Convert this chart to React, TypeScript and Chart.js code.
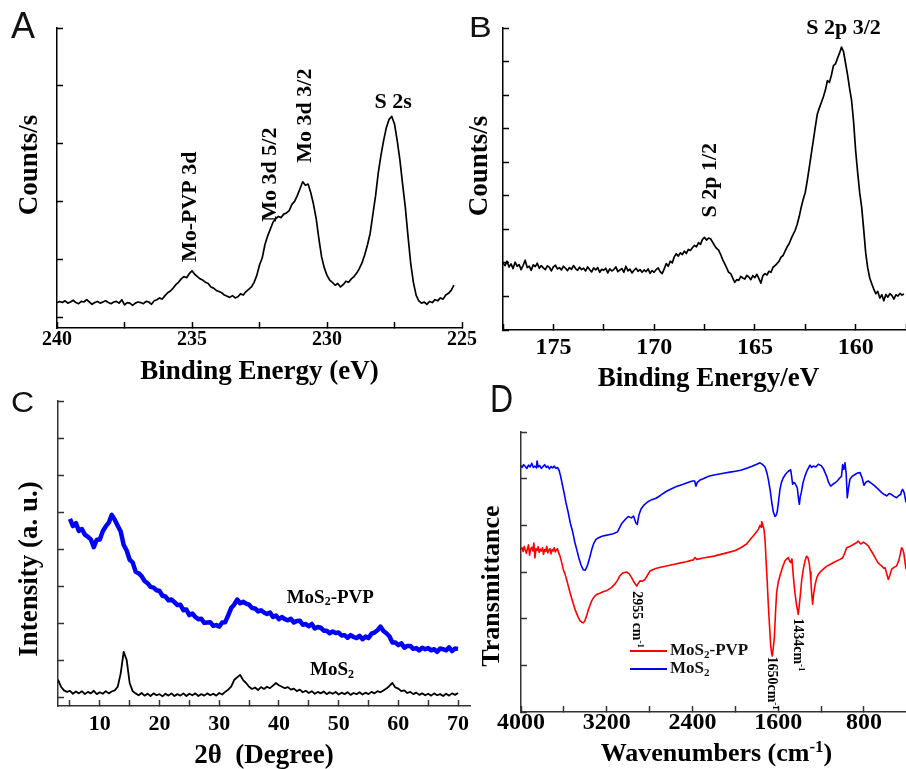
import { useEffect, useRef } from "react";
import { Chart, registerables } from "chart.js";

Chart.register(...registerables);

const W = 906;
const H = 769;
const SERIF = "'Liberation Serif', 'Times New Roman', Times, serif";
const SANS = "'Liberation Sans', Arial, Helvetica, sans-serif";

// ---------------- Panel A: XPS Mo 3d / S 2s region ----------------
const xpsMoStartEV = 240.0;
const xpsMoStepEV = -0.1;
const xpsMoCounts = [
  0.25,
  0.27, 0.25, 0.28, 0.24, 0.26, 0.29, 0.25, 0.23, 0.27, 0.26,
  0.30, 0.26, 0.22, 0.25, 0.27, 0.24, 0.26, 0.28, 0.25, 0.23,
  0.26, 0.27, 0.24, 0.30, 0.21, 0.25, 0.24, 0.20, 0.24, 0.26,
  0.25, 0.23, 0.27, 0.26, 0.22, 0.28, 0.30, 0.33, 0.31, 0.37,
  0.42, 0.45, 0.50, 0.56, 0.60, 0.66, 0.70, 0.68, 0.75, 0.80,
  0.74, 0.70, 0.66, 0.64, 0.60, 0.58, 0.52, 0.50, 0.46, 0.44,
  0.42, 0.38, 0.36, 0.34, 0.37, 0.33, 0.35, 0.40, 0.38, 0.44,
  0.48, 0.52, 0.60, 0.72, 0.90, 1.02, 1.25, 1.40, 1.52, 1.64,
  1.70, 1.74, 1.72, 1.78, 1.80, 1.84, 1.95, 2.00, 2.10, 2.22,
  2.34, 2.28, 2.30, 2.15, 1.95, 1.70, 1.35, 1.04, 0.85, 0.72,
  0.64, 0.60, 0.55, 0.58, 0.52, 0.56, 0.62, 0.60, 0.66, 0.70,
  0.76, 0.84, 0.94, 1.08, 1.25, 1.45, 1.78, 2.10, 2.50, 2.80,
  3.06, 3.28, 3.42, 3.47, 3.34, 3.05, 2.72, 2.30, 1.90, 1.40,
  0.93, 0.60, 0.38, 0.28, 0.24, 0.26, 0.22, 0.27, 0.25, 0.30,
  0.28, 0.33, 0.31, 0.38, 0.41, 0.46, 0.55,
];
const xpsMoTickLabels = [240, 235, 230, 225];
const xpsMoPeakNames = ["Mo-PVP 3d", "Mo 3d 5/2", "Mo 3d 3/2", "S 2s"];

// ---------------- Panel B: XPS S 2p region ----------------
const xpsSStartEV = 177.5;
const xpsSStepEV = -0.1;
const xpsSCounts = [
  1.00, 0.92, 1.05, 0.88, 0.97, 0.83, 1.02, 0.90, 0.95, 0.80,
  0.93, 1.08, 0.86, 0.90, 0.78, 0.94, 0.89, 0.99, 0.84, 0.92,
  0.85, 0.80, 0.91, 0.87, 0.76, 0.88, 0.93, 0.82, 0.86, 0.79,
  0.90, 0.84, 0.77, 0.86, 0.81, 0.92, 0.83, 0.78, 0.87, 0.80,
  0.84, 0.76, 0.88, 0.80, 0.73, 0.85, 0.79, 0.86, 0.72, 0.81,
  0.78, 0.84, 0.70, 0.82, 0.76, 0.80, 0.88, 0.74, 0.79, 0.83,
  0.72, 0.90, 0.76, 0.81, 0.70, 0.78, 0.84, 0.75, 0.80, 0.72,
  0.79, 0.74, 0.82, 0.69, 0.77, 0.72, 0.80, 0.85, 0.74, 0.68,
  0.82, 0.98, 0.90, 1.05, 1.00, 1.18, 1.27, 1.20, 1.30, 1.25,
  1.35, 1.28, 1.40, 1.37, 1.45, 1.52, 1.48, 1.60, 1.55, 1.70,
  1.76, 1.68, 1.74, 1.72, 1.62, 1.52, 1.43, 1.38, 1.25, 1.10,
  0.98, 0.85, 0.72, 0.68, 0.55, 0.42, 0.50, 0.48, 0.60, 0.55,
  0.52, 0.63, 0.58, 0.50, 0.62, 0.56, 0.66, 0.53, 0.40, 0.62,
  0.68, 0.64, 0.75, 0.72, 0.87, 0.92, 0.98, 1.05, 1.17, 1.22,
  1.35, 1.48, 1.57, 1.72, 1.85, 1.97, 2.15, 2.38, 2.66, 2.90,
  3.10, 3.45, 3.85, 4.25, 4.65, 5.05, 5.44, 5.62, 5.78, 5.95,
  6.15, 6.43, 6.38, 6.60, 6.88, 6.93, 7.10, 7.25, 7.43, 7.30,
  6.95, 6.60, 6.20, 5.84, 5.20, 4.35, 3.70, 3.10, 2.66, 2.00,
  1.30, 0.85, 0.55, 0.38, 0.22, 0.08, 0.15, -0.05, 0.05, -0.13,
  0.06, -0.02, 0.08, 0.03, -0.08, 0.05, 0.01, 0.09, 0.04, 0.07,
];
const xpsSTickLabels = [175, 170, 165, 160];
const xpsSPeakNames = ["S 2p 3/2", "S 2p 1/2"];

// ---------------- Panel C: XRD ----------------
const seriesNames = ["MoS_{2}-PVP", "MoS_{2}"];
const xrdStepDeg = 0.5;
const xrdMoS2StartDeg = 3;
const xrdMoS2 = [
  0.49, 0.30, 0.20, 0.16, 0.19, 0.11, 0.17, 0.12, 0.18, 0.10,
  0.16, 0.12, 0.19, 0.10, 0.15, 0.11, 0.18, 0.12, 0.17, 0.20,
  0.30, 0.66, 1.24, 1.02, 0.40, 0.18, 0.12, 0.07, 0.13, 0.06,
  0.11, 0.05, 0.12, 0.07, 0.10, 0.04, 0.11, 0.06, 0.12, 0.05,
  0.10, 0.06, 0.12, 0.05, 0.11, 0.07, 0.12, 0.05, 0.10, 0.06,
  0.12, 0.07, 0.11, 0.06, 0.13, 0.09, 0.16, 0.22, 0.30, 0.48,
  0.55, 0.62, 0.48, 0.40, 0.30, 0.24, 0.28, 0.21, 0.29, 0.24,
  0.30, 0.26, 0.33, 0.40, 0.34, 0.30, 0.26, 0.29, 0.22, 0.25,
  0.18, 0.22, 0.15, 0.19, 0.13, 0.18, 0.11, 0.16, 0.12, 0.17,
  0.10, 0.15, 0.11, 0.16, 0.09, 0.14, 0.10, 0.15, 0.08, 0.13,
  0.10, 0.15, 0.09, 0.14, 0.10, 0.16, 0.12, 0.18, 0.15, 0.20,
  0.25, 0.32, 0.40, 0.28, 0.25, 0.18, 0.20, 0.13, 0.16, 0.10,
  0.14, 0.08, 0.12, 0.07, 0.11, 0.06, 0.12, 0.07, 0.10, 0.05,
  0.11, 0.06, 0.12, 0.08, 0.13,
];
const xrdMoS2PvpStartDeg = 5;
const xrdMoS2Pvp = [
  4.82, 4.63, 4.71, 4.50, 4.55, 4.40, 4.34, 4.27, 4.06, 4.26,
  4.27, 4.49, 4.62, 4.72, 4.93, 4.80, 4.64, 4.48, 4.12, 3.97,
  3.72, 3.65, 3.40, 3.36, 3.28, 3.15, 3.09, 2.99, 2.97, 2.90,
  2.88, 2.75, 2.73, 2.63, 2.65, 2.58, 2.50, 2.51, 2.36, 2.38,
  2.23, 2.27, 2.18, 2.12, 2.13, 2.02, 2.03, 2.04, 1.94, 1.96,
  1.92, 2.03, 2.04, 2.22, 2.42, 2.51, 2.65, 2.55, 2.59, 2.54,
  2.51, 2.42, 2.41, 2.33, 2.36, 2.30, 2.26, 2.30, 2.18, 2.22,
  2.12, 2.18, 2.12, 2.09, 2.13, 2.03, 2.07, 2.08, 1.97, 1.99,
  1.93, 1.99, 1.87, 1.91, 1.89, 1.81, 1.81, 1.74, 1.79, 1.75,
  1.76, 1.68, 1.69, 1.62, 1.69, 1.64, 1.61, 1.67, 1.58, 1.65,
  1.61, 1.73, 1.76, 1.82, 1.92, 1.80, 1.74, 1.66, 1.49, 1.49,
  1.42, 1.47, 1.35, 1.40, 1.40, 1.32, 1.34, 1.28, 1.35, 1.31,
  1.34, 1.28, 1.31, 1.24, 1.33, 1.31, 1.28, 1.36, 1.26, 1.33,
  1.32,
];
const xrdTickLabels = [10, 20, 30, 40, 50, 60, 70];

// ---------------- Panel D: FTIR (wavenumber, transmittance) ----------------
const ftirMoS2Pvp: [number, number][] = [
  [4000, 2.48], [3990, 2.52], [3980, 2.44], [3970, 2.55], [3960, 2.47], [3950, 2.40], [3940, 2.50],
  [3930, 2.58], [3920, 2.36], [3910, 2.49], [3900, 2.53], [3890, 2.45], [3880, 2.62], [3870, 2.30],
  [3860, 2.50], [3850, 2.46], [3840, 2.54], [3830, 2.42], [3820, 2.49], [3810, 2.45], [3800, 2.52],
  [3790, 2.38], [3780, 2.48], [3770, 2.44], [3760, 2.55], [3750, 2.41], [3740, 2.47], [3730, 2.50],
  [3720, 2.39], [3710, 2.48], [3700, 2.45], [3690, 2.52], [3680, 2.43], [3670, 2.47], [3660, 2.50],
  [3650, 2.42], [3636, 2.34], [3620, 2.20], [3605, 2.05], [3590, 1.96], [3570, 1.80], [3543, 1.56],
  [3520, 1.38], [3496, 1.20], [3470, 1.05], [3450, 0.96], [3430, 0.92], [3419, 0.91], [3405, 0.95],
  [3388, 1.06], [3370, 1.20], [3341, 1.38], [3320, 1.46], [3294, 1.52], [3260, 1.55], [3230, 1.58],
  [3201, 1.60], [3160, 1.66], [3124, 1.74], [3100, 1.82], [3077, 1.92], [3050, 1.98], [3015, 2.00],
  [2990, 1.96], [2968, 1.88], [2945, 1.78], [2921, 1.70], [2905, 1.76], [2890, 1.81], [2870, 1.80],
  [2843, 1.84], [2820, 1.93], [2797, 2.02], [2750, 2.07], [2700, 2.10], [2641, 2.13], [2580, 2.16],
  [2520, 2.19], [2460, 2.22], [2392, 2.26], [2375, 2.31], [2360, 2.27], [2300, 2.30], [2200, 2.34],
  [2081, 2.41], [2000, 2.46], [1950, 2.52], [1895, 2.60], [1860, 2.70], [1830, 2.78], [1802, 2.86],
  [1785, 2.92], [1770, 3.00], [1760, 2.96], [1755, 3.08], [1745, 3.02], [1733, 2.92], [1722, 2.65],
  [1714, 2.27], [1703, 1.80], [1692, 1.27], [1680, 0.80], [1670, 0.41], [1662, 0.26], [1655, 0.20],
  [1646, 0.38], [1636, 0.60], [1625, 1.15], [1615, 1.56], [1600, 1.78], [1584, 1.92], [1560, 2.10],
  [1537, 2.24], [1520, 2.28], [1506, 2.31], [1495, 2.24], [1484, 2.20], [1472, 2.28], [1459, 1.90],
  [1444, 1.55], [1428, 1.28], [1413, 1.09], [1403, 1.30], [1391, 1.58], [1380, 1.85], [1366, 2.06],
  [1350, 2.24], [1335, 2.34], [1322, 2.30], [1310, 2.18], [1302, 2.00], [1295, 1.80], [1287, 1.50],
  [1279, 1.31], [1270, 1.52], [1257, 1.72], [1240, 1.88], [1226, 1.95], [1200, 2.02], [1180, 2.06],
  [1150, 2.12], [1117, 2.16], [1070, 2.22], [1024, 2.27], [1000, 2.30], [980, 2.40], [962, 2.52],
  [930, 2.55], [900, 2.59], [875, 2.62], [853, 2.66], [830, 2.60], [806, 2.64], [780, 2.60],
  [760, 2.56], [735, 2.46], [713, 2.38], [690, 2.28], [670, 2.20], [651, 2.16], [630, 2.12],
  [615, 2.08], [604, 2.09], [590, 1.98], [573, 1.84], [560, 1.92], [542, 2.06], [520, 2.10],
  [496, 2.13], [475, 2.25], [460, 2.40], [449, 2.52], [438, 2.48], [428, 2.40], [418, 2.22],
  [408, 2.06],
];
const ftirMoS2: [number, number][] = [
  [4000, 4.28], [3990, 4.24], [3975, 4.30], [3960, 4.26], [3945, 4.22], [3930, 4.29], [3915, 4.25],
  [3900, 4.33], [3885, 4.24], [3870, 4.27], [3855, 4.23], [3850, 4.38], [3840, 4.25], [3825, 4.28],
  [3810, 4.22], [3795, 4.26], [3780, 4.30], [3765, 4.24], [3750, 4.27], [3735, 4.21], [3720, 4.26],
  [3705, 4.23], [3690, 4.27], [3675, 4.22], [3660, 4.24], [3645, 4.18], [3630, 4.05], [3615, 3.88],
  [3600, 3.72], [3580, 3.48], [3560, 3.28], [3540, 3.05], [3520, 2.88], [3500, 2.66], [3480, 2.48],
  [3460, 2.30], [3440, 2.15], [3420, 2.05], [3400, 2.04], [3380, 2.14], [3360, 2.30], [3340, 2.48],
  [3320, 2.62], [3300, 2.70], [3280, 2.73], [3250, 2.76], [3220, 2.78], [3180, 2.80], [3140, 2.82],
  [3100, 2.86], [3060, 3.04], [3030, 3.12], [3000, 3.19], [2970, 3.16], [2950, 3.20], [2930, 3.06],
  [2915, 3.02], [2900, 3.22], [2880, 3.35], [2850, 3.44], [2820, 3.50], [2780, 3.55], [2740, 3.58],
  [2700, 3.64], [2650, 3.72], [2600, 3.78], [2550, 3.83], [2500, 3.87], [2450, 3.91], [2400, 3.95],
  [2380, 3.95], [2368, 3.84], [2355, 3.92], [2330, 3.97], [2300, 4.00], [2250, 4.05], [2200, 4.08],
  [2150, 4.10], [2100, 4.12], [2050, 4.14], [2000, 4.16], [1950, 4.18], [1900, 4.22], [1850, 4.26],
  [1800, 4.31], [1770, 4.34], [1745, 4.30], [1723, 4.25], [1705, 4.12], [1692, 3.98], [1675, 3.75],
  [1661, 3.50], [1645, 3.28], [1630, 3.19], [1618, 3.22], [1609, 3.30], [1595, 3.55], [1584, 3.77],
  [1570, 3.92], [1553, 4.02], [1530, 4.10], [1506, 4.16], [1484, 4.19], [1475, 4.05], [1466, 3.88],
  [1455, 3.92], [1444, 3.90], [1432, 3.85], [1422, 3.80], [1410, 3.55], [1403, 3.45], [1394, 3.62],
  [1385, 3.70], [1370, 3.90], [1350, 4.06], [1330, 4.18], [1304, 4.29], [1288, 4.24], [1273, 4.27],
  [1250, 4.25], [1226, 4.31], [1200, 4.28], [1180, 4.22], [1165, 4.14], [1148, 4.05], [1130, 3.92],
  [1111, 3.84], [1090, 3.88], [1071, 3.91], [1050, 3.95], [1024, 4.02], [1010, 4.05], [999, 4.30],
  [988, 4.20], [977, 4.34], [966, 4.10], [956, 3.59], [944, 3.80], [931, 3.99], [910, 4.05],
  [884, 4.09], [860, 4.12], [837, 4.13], [818, 4.02], [800, 3.86], [780, 3.93], [760, 3.95],
  [730, 3.90], [697, 3.84], [670, 3.78], [635, 3.70], [610, 3.66], [589, 3.63], [565, 3.68],
  [542, 3.66], [520, 3.62], [496, 3.59], [475, 3.64], [458, 3.66], [448, 3.74], [440, 3.77],
  [425, 3.70], [408, 3.49],
];
const ftirTickLabels = [4000, 3200, 2400, 1600, 800];
const ftirBandNames = ["2955 cm^{-1}", "1650cm^{-1}", "1434cm^{-1}"];

// ---------------- helpers ----------------
type Pt = { x: number; y: number };
const sampled = (start: number, step: number, values: number[]): Pt[] =>
  values.map((v, i) => ({ x: Math.round((start + i * step) * 1000) / 1000, y: v }));
const fromPairs = (list: [number, number][]): Pt[] => list.map(([x, y]) => ({ x, y }));

type Seg = { t: string; k: "n" | "sub" | "sup" };
function parseRich(raw: string): Seg[] {
  const out: Seg[] = [];
  const re = /([_^])\{([^}]*)\}/g;
  let last = 0;
  let m: RegExpExecArray | null;
  while ((m = re.exec(raw))) {
    if (m.index > last) out.push({ t: raw.slice(last, m.index), k: "n" });
    out.push({ t: m[2], k: m[1] === "_" ? "sub" : "sup" });
    last = re.lastIndex;
  }
  if (last < raw.length) out.push({ t: raw.slice(last), k: "n" });
  return out;
}

function drawRich(
  ctx: CanvasRenderingContext2D,
  raw: string,
  x: number,
  y: number,
  size: number,
  align: "left" | "center" | "right",
  rotate: number,
  weight = "bold",
  family = SERIF
) {
  const segs = parseRich(raw);
  const fontFor = (s: Seg) => `${weight} ${s.k === "n" ? size : Math.round(size * 0.65)}px ${family}`;
  const widths = segs.map((s) => {
    ctx.font = fontFor(s);
    return ctx.measureText(s.t).width;
  });
  const total = widths.reduce((a, b) => a + b, 0);
  let cx = align === "left" ? 0 : align === "center" ? -total / 2 : -total;
  ctx.save();
  ctx.translate(x, y);
  ctx.rotate(rotate);
  ctx.textAlign = "left";
  ctx.textBaseline = "middle";
  segs.forEach((s, i) => {
    ctx.font = fontFor(s);
    const dy = s.k === "sub" ? size * 0.24 : s.k === "sup" ? -size * 0.26 : 0;
    ctx.fillText(s.t, cx, dy);
    cx += widths[i];
  });
  ctx.restore();
}

// ---------------- panel specs (layout & style) ----------------
interface Note { text: string; x: number; y: number; size: number; align: "left" | "center" | "right"; rotate: number }
interface Series { label: string; data: Pt[]; color: string; width: number }
interface PanelSpec {
  letter: { text: string; x: number; baseline: number; size: number; scaleY: number };
  area: { left: number; top: number; right: number; bottom: number };
  xAxisHeight: number;
  axisColor: string;
  axisWidth: number;
  x: { min: number; max: number; reverse: boolean; step: number; labels: number[]; fontSize: number; labelCenter: number };
  y: { min: number; max: number; step: number };
  xTitle: { text: string; size: number; y: number; dx: number };
  yTitle: { text: string; size: number; x: number; y: number };
  series: Series[];
  notes: Note[];
  legend?: { x: number; y: number; lineLen: number; gap: number; size: number };
}

const R90 = Math.PI / 2;

const PANELS: PanelSpec[] = [
  {
    letter: { text: "A", x: 11, baseline: 38, size: 36, scaleY: 1.03 },
    area: { left: 57, top: 28, right: 462, bottom: 328 },
    xAxisHeight: 60,
    axisColor: "#000",
    axisWidth: 1.5,
    x: { min: 225, max: 240, reverse: true, step: 2.5, labels: xpsMoTickLabels, fontSize: 20, labelCenter: 340 },
    y: { min: -0.19, max: 5, step: 1 },
    xTitle: { text: "Binding Energy (eV)", size: 27, y: 372, dx: 0 },
    yTitle: { text: "Counts/s", size: 27, x: 30, y: 165 },
    series: [{ label: "XPS", data: sampled(xpsMoStartEV, xpsMoStepEV, xpsMoCounts), color: "#000", width: 1.7 }],
    notes: [
      { text: xpsMoPeakNames[0], x: 235.05, y: 0.95, size: 22, align: "left", rotate: -R90 },
      { text: xpsMoPeakNames[1], x: 232.1, y: 1.65, size: 22, align: "left", rotate: -R90 },
      { text: xpsMoPeakNames[2], x: 230.8, y: 2.67, size: 22, align: "left", rotate: -R90 },
      { text: xpsMoPeakNames[3], x: 227.55, y: 3.71, size: 22, align: "center", rotate: 0 },
    ],
  },
  {
    letter: { text: "B", x: 469, baseline: 37, size: 34, scaleY: 0.89 },
    area: { left: 503, top: 28, right: 906, bottom: 330 },
    xAxisHeight: 60,
    axisColor: "#000",
    axisWidth: 1.5,
    x: { min: 157.5, max: 177.5, reverse: true, step: 2.5, labels: xpsSTickLabels, fontSize: 24, labelCenter: 348 },
    y: { min: -1, max: 8, step: 1 },
    xTitle: { text: "Binding Energy/eV", size: 27, y: 379, dx: 4 },
    yTitle: { text: "Counts/s", size: 27, x: 480, y: 166 },
    series: [{ label: "XPS", data: sampled(xpsSStartEV, xpsSStepEV, xpsSCounts), color: "#000", width: 1.7 }],
    notes: [
      { text: xpsSPeakNames[0], x: 160.6, y: 7.99, size: 22, align: "center", rotate: 0 },
      { text: xpsSPeakNames[1], x: 167.2, y: 2.35, size: 22, align: "left", rotate: -R90 },
    ],
  },
  {
    letter: { text: "C", x: 11, baseline: 412, size: 32, scaleY: 0.95 },
    area: { left: 58, top: 401, right: 470, bottom: 706 },
    xAxisHeight: 63,
    axisColor: "#333",
    axisWidth: 1.5,
    x: { min: 3, max: 72, reverse: false, step: 5, labels: xrdTickLabels, fontSize: 22, labelCenter: 724 },
    y: { min: -0.22, max: 8, step: 1 },
    xTitle: { text: "2θ  (Degree)", size: 27, y: 756, dx: 0 },
    yTitle: { text: "Intensity (a. u.)", size: 27, x: 30, y: 569 },
    series: [
      { label: seriesNames[0], data: sampled(xrdMoS2PvpStartDeg, xrdStepDeg, xrdMoS2Pvp), color: "#0000ff", width: 4.5 },
      { label: seriesNames[1], data: sampled(xrdMoS2StartDeg, xrdStepDeg, xrdMoS2), color: "#000", width: 1.8 },
    ],
    notes: [
      { text: seriesNames[0], x: 48.6, y: 2.7, size: 19, align: "center", rotate: 0 },
      { text: seriesNames[1], x: 48.9, y: 0.75, size: 19, align: "center", rotate: 0 },
    ],
  },
  {
    letter: { text: "D", x: 490, baseline: 412, size: 32, scaleY: 1.22 },
    area: { left: 521, top: 432, right: 906, bottom: 712 },
    xAxisHeight: 57,
    axisColor: "#333",
    axisWidth: 1.5,
    x: { min: 408, max: 4000, reverse: true, step: 400, labels: ftirTickLabels, fontSize: 24, labelCenter: 723 },
    y: { min: -1, max: 5, step: 1 },
    xTitle: { text: "Wavenumbers (cm^{-1})", size: 26, y: 754, dx: 3 },
    yTitle: { text: "Transmittance", size: 26, x: 492, y: 586 },
    series: [
      { label: seriesNames[0], data: fromPairs(ftirMoS2Pvp), color: "#ff0000", width: 1.6 },
      { label: seriesNames[1], data: fromPairs(ftirMoS2), color: "#0000ff", width: 1.6 },
    ],
    notes: [
      { text: ftirBandNames[0], x: 2918, y: 1.59, size: 14, align: "left", rotate: R90 },
      { text: ftirBandNames[1], x: 1658, y: 0.19, size: 14, align: "left", rotate: R90 },
      { text: ftirBandNames[2], x: 1416, y: 1.01, size: 14, align: "left", rotate: R90 },
    ],
    legend: { x: 630, y: 651, lineLen: 37, gap: 18, size: 17 },
  },
];

const TICK_LEN = -6;

function textPlugin(spec: PanelSpec) {
  return {
    id: "panelText" + spec.letter.text,
    afterDraw(chart: any) {
      const ctx: CanvasRenderingContext2D = chart.ctx;
      const xs = chart.scales.x;
      const ys = chart.scales.y;
      const ca = chart.chartArea;
      ctx.save();
      ctx.save();
      ctx.fillStyle = "#111";
      ctx.translate(spec.letter.x, spec.letter.baseline);
      ctx.scale(1, spec.letter.scaleY);
      ctx.font = `${spec.letter.size}px ${SANS}`;
      ctx.textAlign = "left";
      ctx.textBaseline = "alphabetic";
      ctx.fillText(spec.letter.text, 0, 0);
      ctx.restore();

      ctx.fillStyle = "#000";
      drawRich(ctx, spec.xTitle.text, (ca.left + ca.right) / 2 + spec.xTitle.dx, spec.xTitle.y, spec.xTitle.size, "center", 0);
      drawRich(ctx, spec.yTitle.text, spec.yTitle.x, spec.yTitle.y, spec.yTitle.size, "center", -R90);

      for (const n of spec.notes) {
        drawRich(ctx, n.text, xs.getPixelForValue(n.x), ys.getPixelForValue(n.y), n.size, n.align, n.rotate);
      }

      if (spec.legend) {
        const lg = spec.legend;
        chart.data.datasets.forEach((ds: any, i: number) => {
          const yy = lg.y + i * lg.gap;
          ctx.strokeStyle = ds.borderColor;
          ctx.lineWidth = 2;
          ctx.beginPath();
          ctx.moveTo(lg.x, yy);
          ctx.lineTo(lg.x + lg.lineLen, yy);
          ctx.stroke();
          ctx.fillStyle = "#111";
          drawRich(ctx, ds.label, lg.x + lg.lineLen + 3, yy, lg.size, "left", 0);
        });
      }
      ctx.restore();
    },
  };
}

function buildConfig(spec: PanelSpec): any {
  const tickPad = spec.x.labelCenter - spec.area.bottom - TICK_LEN - spec.x.fontSize / 2;
  const isLabel = (v: number) => spec.x.labels.some((l) => Math.abs(l - v) < 1e-6);
  const gridOpts = {
    display: true,
    drawOnChartArea: false,
    drawTicks: true,
    tickLength: TICK_LEN,
    tickColor: spec.axisColor,
    tickWidth: spec.axisWidth,
  };
  const borderOpts = { display: true, color: spec.axisColor, width: spec.axisWidth };
  return {
    type: "line",
    data: {
      datasets: spec.series.map((s) => ({
        label: s.label,
        data: s.data,
        borderColor: s.color,
        backgroundColor: s.color,
        borderWidth: s.width,
        pointRadius: 0,
        tension: 0,
        fill: false,
        borderJoinStyle: "round",
      })),
    },
    options: {
      responsive: false,
      animation: false,
      events: [],
      layout: {
        padding: {
          left: spec.area.left,
          top: spec.area.top,
          right: W - spec.area.right,
          bottom: H - spec.area.bottom - spec.xAxisHeight,
        },
      },
      plugins: { legend: { display: false }, tooltip: { enabled: false }, title: { display: false } },
      scales: {
        x: {
          type: "linear",
          position: "bottom",
          min: spec.x.min,
          max: spec.x.max,
          reverse: spec.x.reverse,
          afterFit: (s: any) => {
            s.height = spec.xAxisHeight;
          },
          afterBuildTicks: (s: any) => {
            const ticks: { value: number }[] = [];
            const first = Math.ceil(spec.x.min / spec.x.step - 1e-9);
            const last = Math.floor(spec.x.max / spec.x.step + 1e-9);
            for (let k = first; k <= last; k++) ticks.push({ value: Math.round(k * spec.x.step * 1000) / 1000 });
            s.ticks = ticks;
          },
          ticks: {
            stepSize: spec.x.step,
            includeBounds: false,
            autoSkip: false,
            maxRotation: 0,
            minRotation: 0,
            padding: tickPad,
            color: "#000",
            font: { family: SERIF, size: spec.x.fontSize, weight: "bold", lineHeight: 1 },
            callback: (v: any) => (isLabel(Number(v)) ? String(Math.round(Number(v))) : ""),
          },
          grid: gridOpts,
          border: borderOpts,
        },
        y: {
          type: "linear",
          position: "left",
          min: spec.y.min,
          max: spec.y.max,
          afterFit: (s: any) => {
            s.width = 0;
          },
          ticks: { display: false, stepSize: spec.y.step, includeBounds: false },
          grid: gridOpts,
          border: borderOpts,
        },
      },
    },
    plugins: [textPlugin(spec)],
  };
}

export default function App() {
  const r0 = useRef<HTMLCanvasElement>(null);
  const r1 = useRef<HTMLCanvasElement>(null);
  const r2 = useRef<HTMLCanvasElement>(null);
  const r3 = useRef<HTMLCanvasElement>(null);
  const refs = [r0, r1, r2, r3];

  useEffect(() => {
    const charts = PANELS.map((spec, i) => new Chart(refs[i].current as HTMLCanvasElement, buildConfig(spec)));
    return () => charts.forEach((c) => c.destroy());
  }, []);

  return (
    <div style={{ position: "absolute", left: 0, top: 0, width: W, height: H, background: "#fff", overflow: "hidden" }}>
      {PANELS.map((p, i) => (
        <canvas
          key={p.letter.text}
          ref={refs[i]}
          width={W}
          height={H}
          style={{ position: "absolute", left: 0, top: 0, width: W, height: H }}
        />
      ))}
    </div>
  );
}
